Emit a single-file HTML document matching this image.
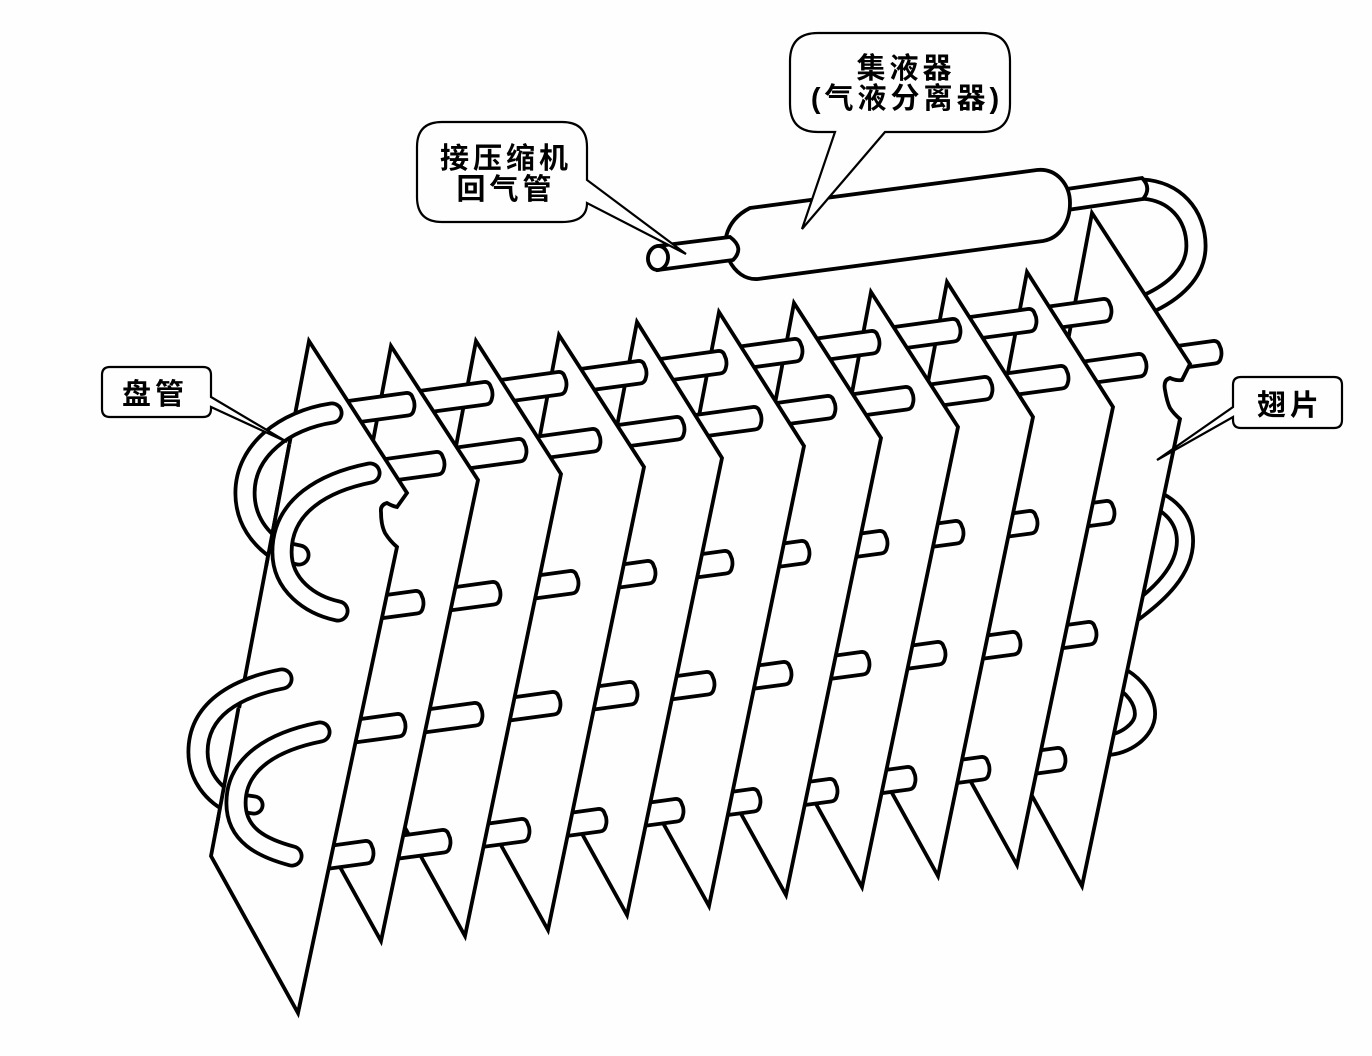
<!DOCTYPE html>
<html lang="zh"><head><meta charset="utf-8"><title>蒸发器</title>
<style>
html,body{margin:0;padding:0;background:#fefefe;}
svg{display:block;}
.f{fill:#fefefe;stroke:#000;stroke-width:3.8;stroke-linejoin:miter;stroke-miterlimit:12;}
.st{fill:#fefefe;stroke:#000;stroke-width:3.8;stroke-linejoin:round;}
.k{fill:none;stroke:#000;stroke-linecap:round;}
.w{fill:none;stroke:#fefefe;stroke-linecap:round;}
.c{fill:#fefefe;stroke:#000;stroke-width:2.2;stroke-linejoin:miter;}
text{font-family:"Liberation Sans","Noto Sans CJK SC",sans-serif;font-weight:700;font-size:29px;letter-spacing:4px;text-anchor:middle;fill:#000;}
</style></head><body>
<svg width="1372" height="1056" viewBox="0 0 1372 1056" xmlns="http://www.w3.org/2000/svg">
<defs>
<path id="s" class="st" d="M-75,-2L-10,-11Q-6,-11.5 -4,-8L-2,-3Q-1,2 -2,5Q-3,11 -8,11.5L-75,20.5"/>
</defs>
<rect width="1372" height="1056" fill="#fefefe"/>

<!-- rear bends -->
<path class="k" stroke-width="20" d="M1140,495C1170,500 1185,520 1185,541C1185,570 1160,595 1128,617"/>
<path class="w" stroke-width="12.4" d="M1140,495C1170,500 1185,520 1185,541C1185,570 1160,595 1128,617"/>
<path class="k" stroke-width="24" d="M1115,675C1135,685 1145,700 1145,714C1145,730 1125,745 1105,745"/>
<path class="w" stroke-width="16.4" d="M1115,675C1135,685 1145,700 1145,714C1145,730 1125,745 1105,745"/>
<path class="k" stroke-width="23" d="M1140,189C1175,190 1196,215 1196,246C1196,272 1175,292 1145,305"/>
<path class="w" stroke-width="15.4" d="M1140,189C1175,190 1196,215 1196,246C1196,272 1175,292 1145,305"/>
<use href="#s" x="1223" y="352"/>

<!-- accumulator + pipes -->
<path class="f" d="M1060,190L1142,178Q1152,188 1143,199L1060,211Z"/>
<path class="f" d="M750,208L1037,170C1057,168 1070,185 1070,203C1070,222 1060,238 1043,241L758,279C745,280 735,272 729,260C722,250 722,222 750,208Z"/>
<path class="f" d="M658,246L730,237Q745,248 733,260L658,270Z"/>
<ellipse class="f" cx="658" cy="258" rx="10" ry="12" transform="rotate(8 658 258)"/>

<!-- fin 11 -->
<path class="f" d="M1092,213L1190,364L1182,380Q1176,381 1170,378Q1163,380 1165,390Q1167,402 1170,408Q1174,414 1180,419L1082,886L995,729Z"/>
<use href="#s" x="1113" y="310"/><use href="#s" x="1148" y="365"/><use href="#s" x="1116" y="512"/><use href="#s" x="1098" y="633"/><use href="#s" x="1067" y="759"/>
<!-- fin 10 -->
<path class="f" d="M1027,272L1113,407L1017,865L930,708L980,520Z"/>
<use href="#s" x="1038" y="320"/><use href="#s" x="1070" y="377"/><use href="#s" x="1039" y="522"/><use href="#s" x="1022" y="643"/><use href="#s" x="991" y="768"/>
<!-- fin 9 -->
<path class="f" d="M947,282L1033,417L938,876L851,719L902,520Z"/>
<use href="#s" x="962" y="330"/><use href="#s" x="994" y="388"/><use href="#s" x="965" y="532"/><use href="#s" x="947" y="653"/><use href="#s" x="917" y="778"/>
<!-- fin 8 -->
<path class="f" d="M871,292L958,427L862,887L775,730L828,520Z"/>
<use href="#s" x="881" y="342"/><use href="#s" x="915" y="398"/><use href="#s" x="889" y="542"/><use href="#s" x="871" y="663"/><use href="#s" x="839" y="790"/>
<!-- fin 7 -->
<path class="f" d="M794,303L881,438L786,895L699,738L753,520Z"/>
<use href="#s" x="804" y="350"/><use href="#s" x="837" y="407"/><use href="#s" x="811" y="552"/><use href="#s" x="793" y="673"/><use href="#s" x="762" y="800"/>
<!-- fin 6 -->
<path class="f" d="M719,312L804,446L709,906L622,749L679,520Z"/>
<use href="#s" x="728" y="362"/><use href="#s" x="763" y="418"/><use href="#s" x="734" y="562"/><use href="#s" x="716" y="683"/><use href="#s" x="685" y="810"/>
<!-- fin 5 -->
<path class="f" d="M637,322L722,458L627,915L540,758L599,520Z"/>
<use href="#s" x="648" y="372"/><use href="#s" x="686" y="428"/><use href="#s" x="657" y="572"/><use href="#s" x="639" y="693"/><use href="#s" x="608" y="820"/>
<!-- fin 4 -->
<path class="f" d="M559,335L644,467L548,930L461,773L524,520Z"/>
<use href="#s" x="568" y="383"/><use href="#s" x="602" y="440"/><use href="#s" x="580" y="582"/><use href="#s" x="562" y="703"/><use href="#s" x="531" y="830"/>
<!-- fin 3 -->
<path class="f" d="M476,341L561,474L465,936L378,779L442,520Z"/>
<use href="#s" x="494" y="393"/><use href="#s" x="528" y="450"/><use href="#s" x="502" y="593"/><use href="#s" x="484" y="714"/><use href="#s" x="452" y="841"/>
<!-- fin 2 -->
<path class="f" d="M391,346L478,480L381,941L294,784L358,520Z"/>
<use href="#s" x="416" y="404"/><use href="#s" x="446" y="463"/><use href="#s" x="425" y="602"/><use href="#s" x="407" y="725"/><use href="#s" x="375" y="852"/>
<!-- fin 1 -->
<path class="f" d="M309,341L407,493L397,507Q392,506 387,503Q380,505 381,512Q381,525 385,533Q390,541 397,547L298,1013L211,856Z"/>

<!-- front bends -->
<path class="k" stroke-width="23" d="M332,413C285,420 245,450 245,493C245,518 258,540 285,555"/>
<path class="w" stroke-width="15.4" d="M332,413C285,420 245,450 245,493C245,518 258,540 285,555"/>
<path d="M289.4,444L268,556L285,590L335,560L335,448Z" fill="#fefefe"/>
<path d="M289.4,444L266.2,566" stroke="#000" stroke-width="3.8" fill="none"/>
<path class="k" stroke-width="23" d="M285,552L299,555"/><path class="w" stroke-width="15.4" d="M285,552L299,555"/>
<path class="k" stroke-width="23" d="M370,473C325,482 282,505 282,552C282,585 310,605 338,611"/>
<path class="w" stroke-width="15.4" d="M370,473C325,482 282,505 282,552C282,585 310,605 338,611"/>

<path class="k" stroke-width="23" d="M282,679C235,688 198,710 198,752C198,775 212,795 235,805"/>
<path class="w" stroke-width="15.4" d="M282,679C235,688 198,710 198,752C198,775 212,795 235,805"/>
<path d="M238.5,708L219.5,815L240,840L295,800L295,712Z" fill="#fefefe"/>
<path d="M238.5,708L215.4,833" stroke="#000" stroke-width="3.8" fill="none"/>
<path class="k" stroke-width="21" d="M240,803L254,805"/><path class="w" stroke-width="13.4" d="M240,803L254,805"/>
<path class="k" stroke-width="23" d="M320,732C275,741 236,762 236,803C236,835 262,848 292,856"/>
<path class="w" stroke-width="15.4" d="M320,732C275,741 236,762 236,803C236,835 262,848 292,856"/>

<!-- callouts -->
<path class="c" d="M442,122H562Q587,122 587,147V180L686,254L587,203Q587,222 562,222H442Q417,222 417,197V147Q417,122 442,122Z"/>
<path class="c" d="M818,33H982Q1010,33 1010,61V104Q1010,132 982,132H885L802,229L835,132H818Q790,132 790,104V61Q790,33 818,33Z"/>
<path class="c" d="M110,367H203Q211,367 211,375V397L287,442L211,407V409Q211,417 203,417H110Q102,417 102,409V375Q102,367 110,367Z"/>
<path class="c" d="M1241,377H1334Q1342,377 1342,385V420Q1342,428 1334,428H1241Q1233,428 1233,420V417L1157,460L1233,407V385Q1233,377 1241,377Z"/>

<text x="506" y="168">接压缩机</text>
<text x="506" y="199">回气管</text>
<text x="906" y="78">集液器</text>
<text x="907" y="108">(气液分离器)</text>
<text x="155" y="404">盘管</text>
<text x="1290" y="415">翅片</text>
</svg>
</body></html>
